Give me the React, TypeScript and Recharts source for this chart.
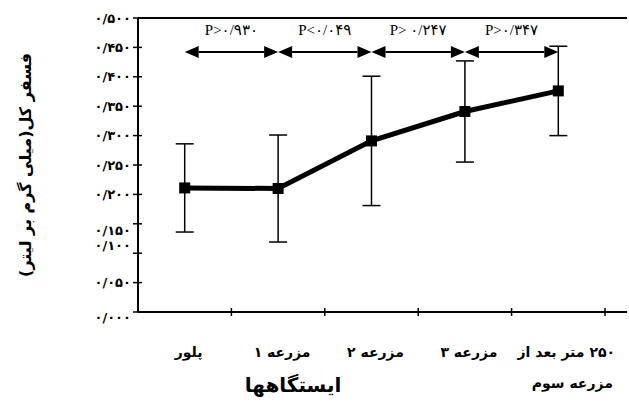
import React from "react";
import { LineChart, Line, XAxis, YAxis, ErrorBar, ReferenceLine, Label } from "recharts";

const stations = ["پلور", "مزرعه ۱", "مزرعه ۲", "مزرعه ۳", "۲۵۰ متر بعد از|مزرعه سوم"];
const phosphorus = [0.211, 0.21, 0.291, 0.341, 0.376];
const stdDev = [0.075, 0.091, 0.11, 0.086, 0.076];
const yTicks = [0, 0.05, 0.1, 0.15, 0.2, 0.25, 0.3, 0.35, 0.4, 0.45, 0.5];
const pLabels = ["P>۰/۹۳۰", "P<۰/۰۴۹", "P> ۰/۲۴۷", "P>۰/۳۴۷"];
const arrowLevel = 0.442;

const data = stations.map((s, i) => ({ pos: i + 0.5, value: phosphorus[i], err: stdDev[i] }));
const xTicks = stations.flatMap((s, i) => [i + 0.5, i + 1]);

const fa = (s: string) => s.replace(/\d/g, (d) => "۰۱۲۳۴۵۶۷۸۹"[+d]);
const faFont = "'DejaVu Sans', sans-serif";

const YTick = (props: any) => {
  const { x, y, payload } = props;
  const v = payload.value;
  // the two labels sit squeezed together in the original
  const shift = v === 0.15 ? 7 : v === 0.1 ? -8 : v === 0 ? 5 : 0;
  return (
    <g>
      <line x1={x - 5} x2={x + 4} y1={y} y2={y} stroke="#000" strokeWidth={1.5} />
      <text x={x - 7} y={y + shift} dy="0.35em" textAnchor="end" fontSize={13} fontWeight="bold"
        fontFamily={faFont} fill="#000">
        {fa(v.toFixed(3)).replace(".", "/")}
      </text>
    </g>
  );
};

const XTick = (props: any) => {
  const { x, y, payload } = props;
  const v = payload.value;
  if (Number.isInteger(v)) {
    return <line x1={x} x2={x} y1={y - 4} y2={y + 4} stroke="#000" strokeWidth={1.5} />;
  }
  const lines = stations[Math.floor(v)].split("|");
  return (
    <g>
      {lines.map((t, k) => (
        <text key={k} x={x + (lines.length > 1 ? 8 + k * 6 : 4)} y={y + 45 + k * 31} textAnchor="middle"
          direction="rtl" fontSize={14} fontWeight="bold" fontFamily={faFont} fill="#000">
          {t}
        </text>
      ))}
    </g>
  );
};

const ArrowShape = (props: any) => {
  const { x1, y1, x2, y2, text } = props;
  const h = 14, w = 6;
  return (
    <g>
      <line x1={x1 + h} x2={x2 - h} y1={y1} y2={y2} stroke="#000" strokeWidth={2} />
      <polygon points={`${x1},${y1} ${x1 + h},${y1 - w} ${x1 + h},${y1 + w}`} fill="#000" />
      <polygon points={`${x2},${y2} ${x2 - h},${y2 - w} ${x2 - h},${y2 + w}`} fill="#000" />
      <text x={(x1 + x2) / 2} y={y1 - 17} textAnchor="middle" fontSize={15}
        fontFamily="'Liberation Serif', 'DejaVu Sans', serif" fill="#000">
        {text}
      </text>
    </g>
  );
};

const SquareDot = (props: any) => {
  const { cx, cy } = props;
  return <rect x={cx - 5.5} y={cy - 5.5} width={11} height={11} fill="#000" />;
};

export default function App() {
  return (
    <div style={{ position: "absolute", left: 0, top: 0, background: "#fff" }}>
      <LineChart width={629} height={409} data={data} margin={{ top: 18, right: 2, bottom: 0, left: 0 }}>
        <XAxis
          type="number"
          dataKey="pos"
          domain={[0, 5]}
          ticks={xTicks}
          interval={0}
          padding={{ left: 0, right: 22 }}
          height={97}
          tickSize={0}
          tickMargin={0}
          tickLine={false}
          axisLine={{ stroke: "#000", strokeWidth: 2 }}
          tick={<XTick />}
        >
          <Label
            content={(p: any) => {
              const vb = p.viewBox;
              return (
                <text x={vb.x + 155} y={vb.y + 80} textAnchor="middle" direction="rtl" fontSize={20}
                  fontWeight="bold" fontFamily={faFont} fill="#000">
                  ایستگاهها
                </text>
              );
            }}
          />
        </XAxis>
        <YAxis
          domain={[0, 0.5]}
          ticks={yTicks}
          interval={0}
          width={138}
          tickSize={0}
          tickMargin={0}
          tickLine={false}
          axisLine={{ stroke: "#000", strokeWidth: 2 }}
          tick={<YTick />}
        >
          <Label
            content={(p: any) => {
              const vb = p.viewBox;
              const cx = vb.x + 25;
              const cy = vb.y + vb.height / 2;
              return (
                <text x={cx} y={cy} dy="0.35em" textAnchor="middle" direction="rtl" fontSize={16}
                  fontWeight="bold" fontFamily={faFont} fill="#000" transform={`rotate(-90, ${cx}, ${cy})`}>
                  فسفر کل(میلی گرم بر لیتر)
                </text>
              );
            }}
          />
        </YAxis>
        <YAxis yAxisId="r" orientation="right" width={0} tick={false} tickLine={false}
          axisLine={{ stroke: "#444", strokeWidth: 1 }} />
        <ReferenceLine y={0.5} stroke="#000" strokeWidth={2} />
        {pLabels.map((t, i) => (
          <ReferenceLine
            key={t}
            segment={[{ x: data[i].pos, y: arrowLevel }, { x: data[i + 1].pos, y: arrowLevel }]}
            shape={(p: any) => <ArrowShape {...p} text={t} />}
          />
        ))}
        <Line
          type="linear"
          dataKey="value"
          stroke="#000"
          strokeWidth={5}
          dot={<SquareDot />}
          activeDot={false}
          isAnimationActive={false}
        >
          <ErrorBar dataKey="err" width={9} stroke="#000" strokeWidth={1.5} direction="y" />
        </Line>
      </LineChart>
    </div>
  );
}
